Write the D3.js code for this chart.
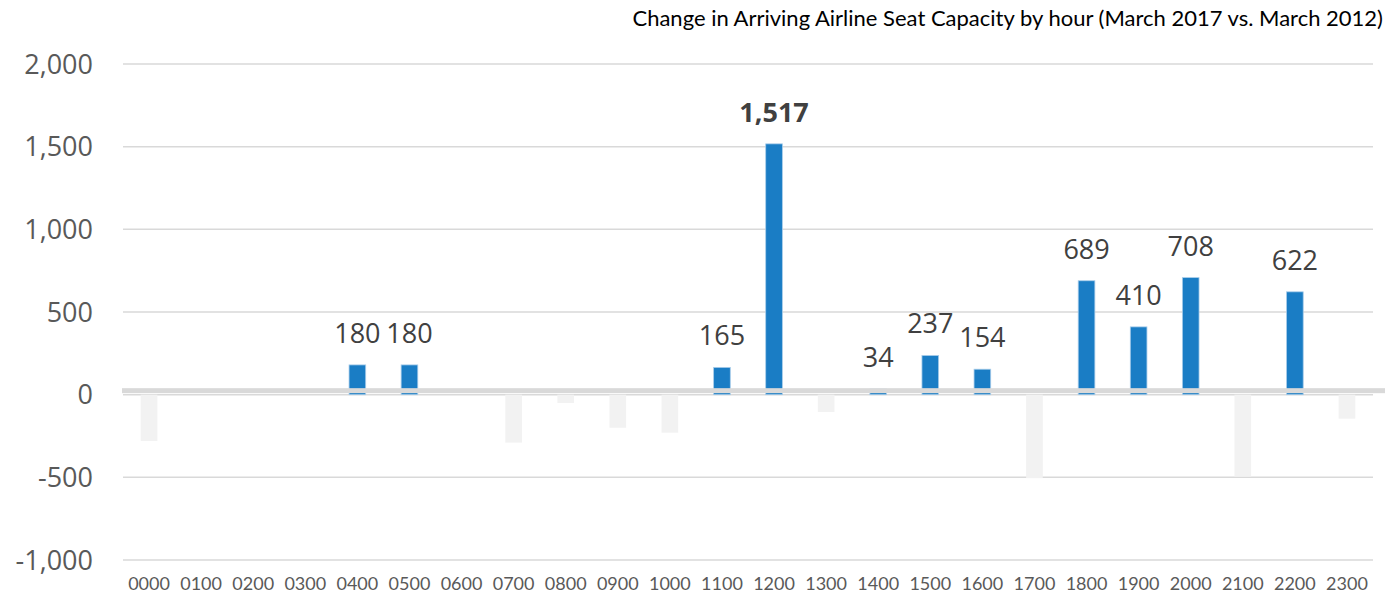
<!DOCTYPE html>
<html>
<head>
<meta charset="utf-8">
<script src="https://cdn.jsdelivr.net/npm/d3@7"></script>
<style>
  body { margin: 0; background: #fff; }
</style>
</head>
<body>
<div id="my_dataviz"></div>
<script>
// hours on the x axis
var hours = ["0000","0100","0200","0300","0400","0500","0600","0700","0800","0900","1000","1100",
             "1200","1300","1400","1500","1600","1700","1800","1900","2000","2100","2200","2300"];
// change in seats (negatives estimated)
var seatChange = [-280, 0, 0, 0, 180, 180, 0, -290, -50, -200, -230, 165,
                  1517, -105, 34, 237, 154, -505, 689, 410, 708, -495, 622, -145];
var yTicks = [-1000, -500, 0, 500, 1000, 1500, 2000];
var titleText = "Change in Arriving Airline Seat Capacity by hour (March 2017 vs. March 2012)";

function drawChart(){

  var width = 1388, height = 598;

  var svg = d3.select("#my_dataviz")
    .append("svg")
      .attr("width", width)
      .attr("height", height);

  var data = hours.map(function(h, i){ return {hour: h, value: seatChange[i]}; });

  // x scale, one band per hour
  var x = d3.scaleBand()
    .domain(hours)
    .range([123, 1373])
    .padding(0);

  var barW = x.bandwidth() * 0.32;

  // y scale
  var y = d3.scaleLinear()
    .domain([-1000, 2000])
    .range([560, 64]);

  // excel style: plain hyphen for negatives
  var fmt = function(v){ return d3.format(",")(v).replace("\u2212", "-"); };

  // gridlines
  svg.append("g")
    .selectAll("line")
    .data(yTicks)
    .enter()
    .append("line")
      .attr("x1", 123)
      .attr("x2", 1373)
      .attr("y1", function(d){ return y(d); })
      .attr("y2", function(d){ return y(d); })
      .style("stroke", "#d9d9d9")
      .style("stroke-width", 1.5);

  // y axis labels
  svg.append("g")
    .selectAll("text")
    .data(yTicks)
    .enter()
    .append("text")
      .attr("x", 93)
      .attr("y", function(d){ return y(d); })
      .attr("dy", "0.36em")
      .attr("text-anchor", "end")
      .style("font-family", "Open Sans")
      .style("font-size", "27px")
      .style("fill", "#595959")
      .text(function(d){ return fmt(d); });

  // bars
  svg.append("g")
    .selectAll("rect")
    .data(data.filter(function(d){ return d.value !== 0; }))
    .enter()
    .append("rect")
      .attr("x", function(d){ return x(d.hour) + (x.bandwidth() - barW) / 2; })
      .attr("width", barW)
      .attr("y", function(d){ return y(Math.max(0, d.value)); })
      .attr("height", function(d){ return Math.abs(y(d.value) - y(0)); })
      .style("fill", function(d){ return d.value > 0 ? "#1a7dc5" : "#f2f2f2"; })
      .style("stroke", function(d){ return d.value > 0 ? "#a9cdea" : "none"; })
      .style("stroke-width", 0.8);

  // the heavy zero axis band
  svg.append("rect")
    .attr("x", 122)
    .attr("width", 1263)
    .attr("y", y(0) - 6.5)
    .attr("height", 5)
    .style("fill", "#d9d9d9");

  // data labels on the positive bars
  svg.append("g")
    .selectAll("text")
    .data(data.filter(function(d){ return d.value > 0; }))
    .enter()
    .append("text")
      .attr("x", function(d){ return x(d.hour) + x.bandwidth() / 2; })
      .attr("y", function(d){ return y(d.value) - 22; })
      .attr("text-anchor", "middle")
      .style("font-family", "Open Sans")
      .style("font-size", "27px")
      .style("font-weight", function(d){ return d.value > 1000 ? "bold" : "normal"; })
      .style("fill", "#404040")
      .text(function(d){ return fmt(d.value); });

  // x axis labels
  svg.append("g")
    .selectAll("text")
    .data(hours)
    .enter()
    .append("text")
      .attr("x", function(d){ return x(d) + x.bandwidth() / 2; })
      .attr("y", 590)
      .attr("text-anchor", "middle")
      .style("font-family", "Lato")
      .style("font-size", "18px")
      .style("fill", "#595959")
      .text(function(d){ return d; });

  // title, top right
  svg.append("text")
    .attr("x", 1383)
    .attr("y", 26)
    .attr("text-anchor", "end")
    .style("font-family", "Lato")
    .style("font-size", "22px")
    .style("fill", "#000")
    .text(titleText);
}

drawChart();
</script>
</body>
</html>
